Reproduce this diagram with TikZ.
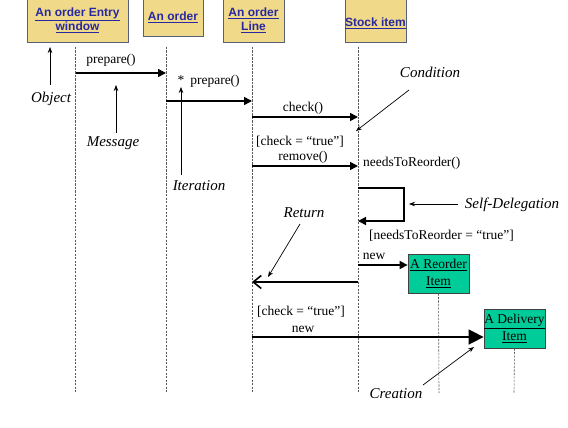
\documentclass[tikz,border=0pt]{standalone}
\usepackage{fontspec}
\setmainfont{Liberation Serif}
\newfontfamily\boxfont{Liberation Sans}
\usetikzlibrary{arrows.meta,calc}
\definecolor{khaki}{HTML}{F0DA8A}
\definecolor{boxedge}{HTML}{56607A}
\definecolor{boxtext}{HTML}{2828A0}
\definecolor{mint}{HTML}{00CC99}
\tikzset{
  objbox/.style={draw=boxedge, line width=0.8pt, fill=khaki, inner sep=0pt, align=center,
     font=\boxfont\bfseries\fontsize{12}{14}\selectfont, text=boxtext},
  newbox/.style={draw=black!75, line width=0.8pt, fill=mint, inner sep=0pt, align=center,
     font=\fontsize{13.5}{17}\selectfont},
  life/.style={dashed, dash pattern=on 2.2pt off 1.3pt, line width=0.6pt, black!65},
  msg/.style={line width=1.6pt, -{Triangle[length=8pt,width=8pt]}},
  ret/.style={line width=1.6pt, -{Straight Barb[length=8pt,width=13pt,line width=1.6pt]}},
  note/.style={line width=0.7pt, -{Stealth[length=6pt,width=4.5pt]}},
  lbl/.style={font=\fontsize{13.5}{15}\selectfont, inner sep=1pt},
  notelbl/.style={font=\itshape\fontsize{15}{17}\selectfont, inner sep=1pt},
}
\begin{document}
\begin{tikzpicture}[x=1pt,y=-1pt]
\useasboundingbox (0,0) rectangle (568,428);
% object boxes
\node[objbox, minimum width=101pt, minimum height=43pt] (b1) at (77.5,20.5) {\underline{An order Entry}\\\underline{window}};
\node[objbox, minimum width=60pt, minimum height=37pt] (b2) at (173,17.5) {\underline{An order}};
\node[objbox, minimum width=61pt, minimum height=43pt] (b3) at (253.5,20.5) {\underline{An order}\\\underline{Line}};
\node[objbox, minimum width=61pt, minimum height=43pt, text depth=0pt] (b4) at (375.5,20.5) {\raisebox{-3pt}{\underline{Stock item}}};
\node[newbox, minimum width=61pt, minimum height=39pt] (b5) at (438.5,273.5) {\underline{A Reorder}\\\underline{Item}};
\node[newbox, minimum width=61pt, minimum height=39pt] (b6) at (514.5,328.5) {\underline{A Delivery}\\\underline{Item}};
% lifelines
\coordinate (l1t) at (75.5,47); \coordinate (l1b) at (75.5,393);
\coordinate (l2t) at (166,47); \coordinate (l2b) at (166,393);
\coordinate (l3t) at (252,47); \coordinate (l3b) at (252,393);
\coordinate (l4t) at (358,47); \coordinate (l4b) at (358,393);
\coordinate (l5b) at (439,393);
\coordinate (l6b) at (514,393);
\draw[life] (l1t) -- (l1b);
\draw[life] (l2t) -- (l2b);
\draw[life] (l3t) -- (l3b);
\draw[life] (l4t) -- (l4b);
\draw[life] (b5.south) -- (l5b);
\draw[life] (b6.south) -- (l6b);
% messages
\coordinate (m1a) at (75.5,73); \coordinate (m1b) at (166,73);
\draw[msg] (m1a) -- (m1b);
\node[lbl] (t1) at (111,60) {prepare()};
\coordinate (m2a) at (166,101); \coordinate (m2b) at (252,101);
\draw[msg] (m2a) -- (m2b);
\node[lbl] (t2s) at (181,80) {*};
\node[lbl] (t2) at (215,81) {prepare()};
\coordinate (m3a) at (252,117); \coordinate (m3b) at (358,117);
\draw[msg] (m3a) -- (m3b);
\node[lbl] (t3) at (303,108) {check()};
\node[lbl] (t4c) at (300,142) {[check = “true”]};
\coordinate (m4a) at (252,166); \coordinate (m4b) at (358,166);
\draw[msg] (m4a) -- (m4b);
\node[lbl] (t4) at (303,157) {remove()};
\node[lbl, anchor=west] (t5) at (362,163) {needsToReorder()};
% self delegation
\coordinate (s1) at (358,188); \coordinate (s2) at (404,188);
\coordinate (s3) at (404,221); \coordinate (s4) at (358,221);
\draw[msg] (s1) -- (s2) -- (s3) -- (s4);
\node[lbl, anchor=west] (t6) at (368,236) {[needsToReorder = “true”]};
% new reorder
\coordinate (m6a) at (358,265);
\draw[msg] (m6a) -- (b5.west |- m6a);
\node[lbl] (t7) at (374,256) {new};
% return
\coordinate (r1) at (358,282); \coordinate (r2) at (252,282);
\draw[ret] (r1) -- (r2);
% new delivery
\node[lbl] (t8c) at (301,312) {[check = “true”]};
\node[lbl] (t8) at (303,329) {new};
\coordinate (m8a) at (252,337);
\draw[line width=1.6pt, -{Triangle[length=15pt,width=15pt]}] (m8a) -- (b6.west |- m8a);
% annotations
\node[notelbl] (n1) at (51,99) {Object};
\coordinate (n1h) at (50,47);
\coordinate (n1a) at (50,85);
\draw[note] (n1a) -- (n1h);
\node[notelbl] (n2) at (113,143) {Message};
\coordinate (n2a) at (116,133); \coordinate (n2h) at (116,85);
\draw[note] (n2a) -- (n2h);
\node[notelbl] (n3) at (199,186) {Iteration};
\coordinate (n3a) at (181,175); \coordinate (n3h) at (181,87);
\draw[note] (n3a) -- (n3h);
\node[notelbl] (n4) at (430,72) {Condition};
\coordinate (n4a) at (409,90); \coordinate (n4h) at (356,131);
\draw[note] (n4a) -- (n4h);
\node[notelbl] (n5) at (512,205) {Self-Delegation};
\coordinate (n5a) at (458,204); \coordinate (n5h) at (409,204);
\draw[note] (n5a) -- (n5h);
\node[notelbl] (n6) at (304,213) {Return};
\coordinate (n6a) at (300,224); \coordinate (n6h) at (268,277);
\draw[note] (n6a) -- (n6h);
\node[notelbl] (n7) at (396,394) {Creation};
\coordinate (n7a) at (423,385); \coordinate (n7h) at (474,347);
\draw[note] (n7a) -- (n7h);
\end{tikzpicture}
\end{document}
